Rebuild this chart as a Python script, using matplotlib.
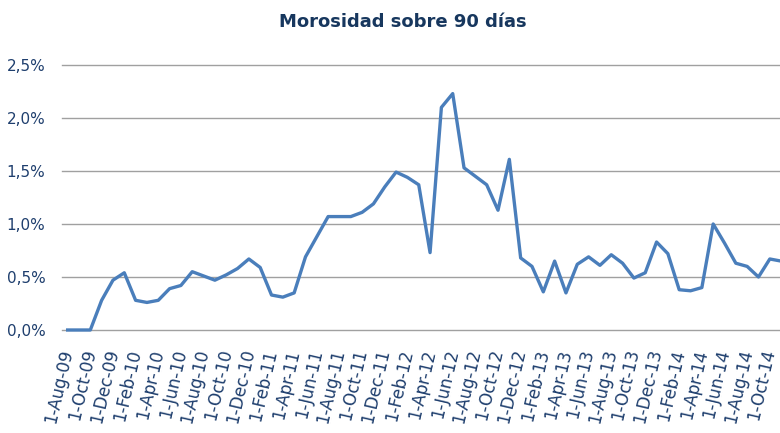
import matplotlib
matplotlib.use('Agg')
import matplotlib.pyplot as plt
from matplotlib.ticker import FuncFormatter

# Monthly delinquency rate (%) from Aug-09 to Nov-14
months = ['Aug-09', 'Sep-09', 'Oct-09', 'Nov-09', 'Dec-09',
          'Jan-10', 'Feb-10', 'Mar-10', 'Apr-10', 'May-10', 'Jun-10', 'Jul-10',
          'Aug-10', 'Sep-10', 'Oct-10', 'Nov-10', 'Dec-10',
          'Jan-11', 'Feb-11', 'Mar-11', 'Apr-11', 'May-11', 'Jun-11', 'Jul-11',
          'Aug-11', 'Sep-11', 'Oct-11', 'Nov-11', 'Dec-11',
          'Jan-12', 'Feb-12', 'Mar-12', 'Apr-12', 'May-12', 'Jun-12', 'Jul-12',
          'Aug-12', 'Sep-12', 'Oct-12', 'Nov-12', 'Dec-12',
          'Jan-13', 'Feb-13', 'Mar-13', 'Apr-13', 'May-13', 'Jun-13', 'Jul-13',
          'Aug-13', 'Sep-13', 'Oct-13', 'Nov-13', 'Dec-13',
          'Jan-14', 'Feb-14', 'Mar-14', 'Apr-14', 'May-14', 'Jun-14', 'Jul-14',
          'Aug-14', 'Sep-14', 'Oct-14', 'Nov-14']
morosidad = [0.00, 0.00, 0.00, 0.28, 0.47,
             0.54, 0.28, 0.26, 0.28, 0.39, 0.42, 0.55,
             0.51, 0.47, 0.52, 0.58, 0.67,
             0.59, 0.33, 0.31, 0.35, 0.69, 0.88, 1.07,
             1.07, 1.07, 1.11, 1.19, 1.35,
             1.49, 1.44, 1.37, 0.73, 2.10, 2.23, 1.53,
             1.45, 1.37, 1.13, 1.61, 0.68,
             0.60, 0.36, 0.65, 0.35, 0.62, 0.69, 0.61,
             0.71, 0.63, 0.49, 0.54, 0.83,
             0.72, 0.38, 0.37, 0.40, 1.00, 0.82, 0.63,
             0.60, 0.50, 0.67, 0.65]
yticks = [0.0, 0.5, 1.0, 1.5, 2.0, 2.5]

text_color = '#1F3F6E'
x = list(range(len(months)))

fig = plt.figure(figsize=(7.8, 4.33), dpi=100)
ax = fig.add_axes([62 / 780, 1 - 330 / 433, 1 - 62 / 780, (330 - 65) / 433])

# gridlines drawn by hand so the 0% and 2.5% lines are not clipped at the edges
for t in yticks:
    ax.axhline(t, color='#A0A0A0', linewidth=1, clip_on=False, zorder=1)
ax.plot(x, morosidad, color='#4A7EBB', linewidth=2.4, clip_on=False, zorder=3)

ax.set_ylim(0, 2.5)
ax.set_xlim(-0.5, 62.9)
ax.set_yticks(yticks)
ax.yaxis.set_major_formatter(FuncFormatter(lambda v, p: ('%.1f%%' % v).replace('.', ',')))

ax.set_xticks(x[::2])
ax.set_xticklabels(['1-' + m for m in months[::2]], rotation=77, ha='right', va='center',
                   rotation_mode='anchor')
ax.tick_params(axis='both', length=0, colors=text_color)
ax.tick_params(axis='y', labelsize=11, pad=12)
ax.tick_params(axis='x', labelsize=12, pad=14)

for s in ax.spines.values():
    s.set_visible(False)

fig.text(403 / 780, 1 - 22 / 433, 'Morosidad sobre 90 días', ha='center', va='center',
         fontsize=13, fontweight='bold', color='#17375E')

fig.savefig('out.png', dpi=100)
